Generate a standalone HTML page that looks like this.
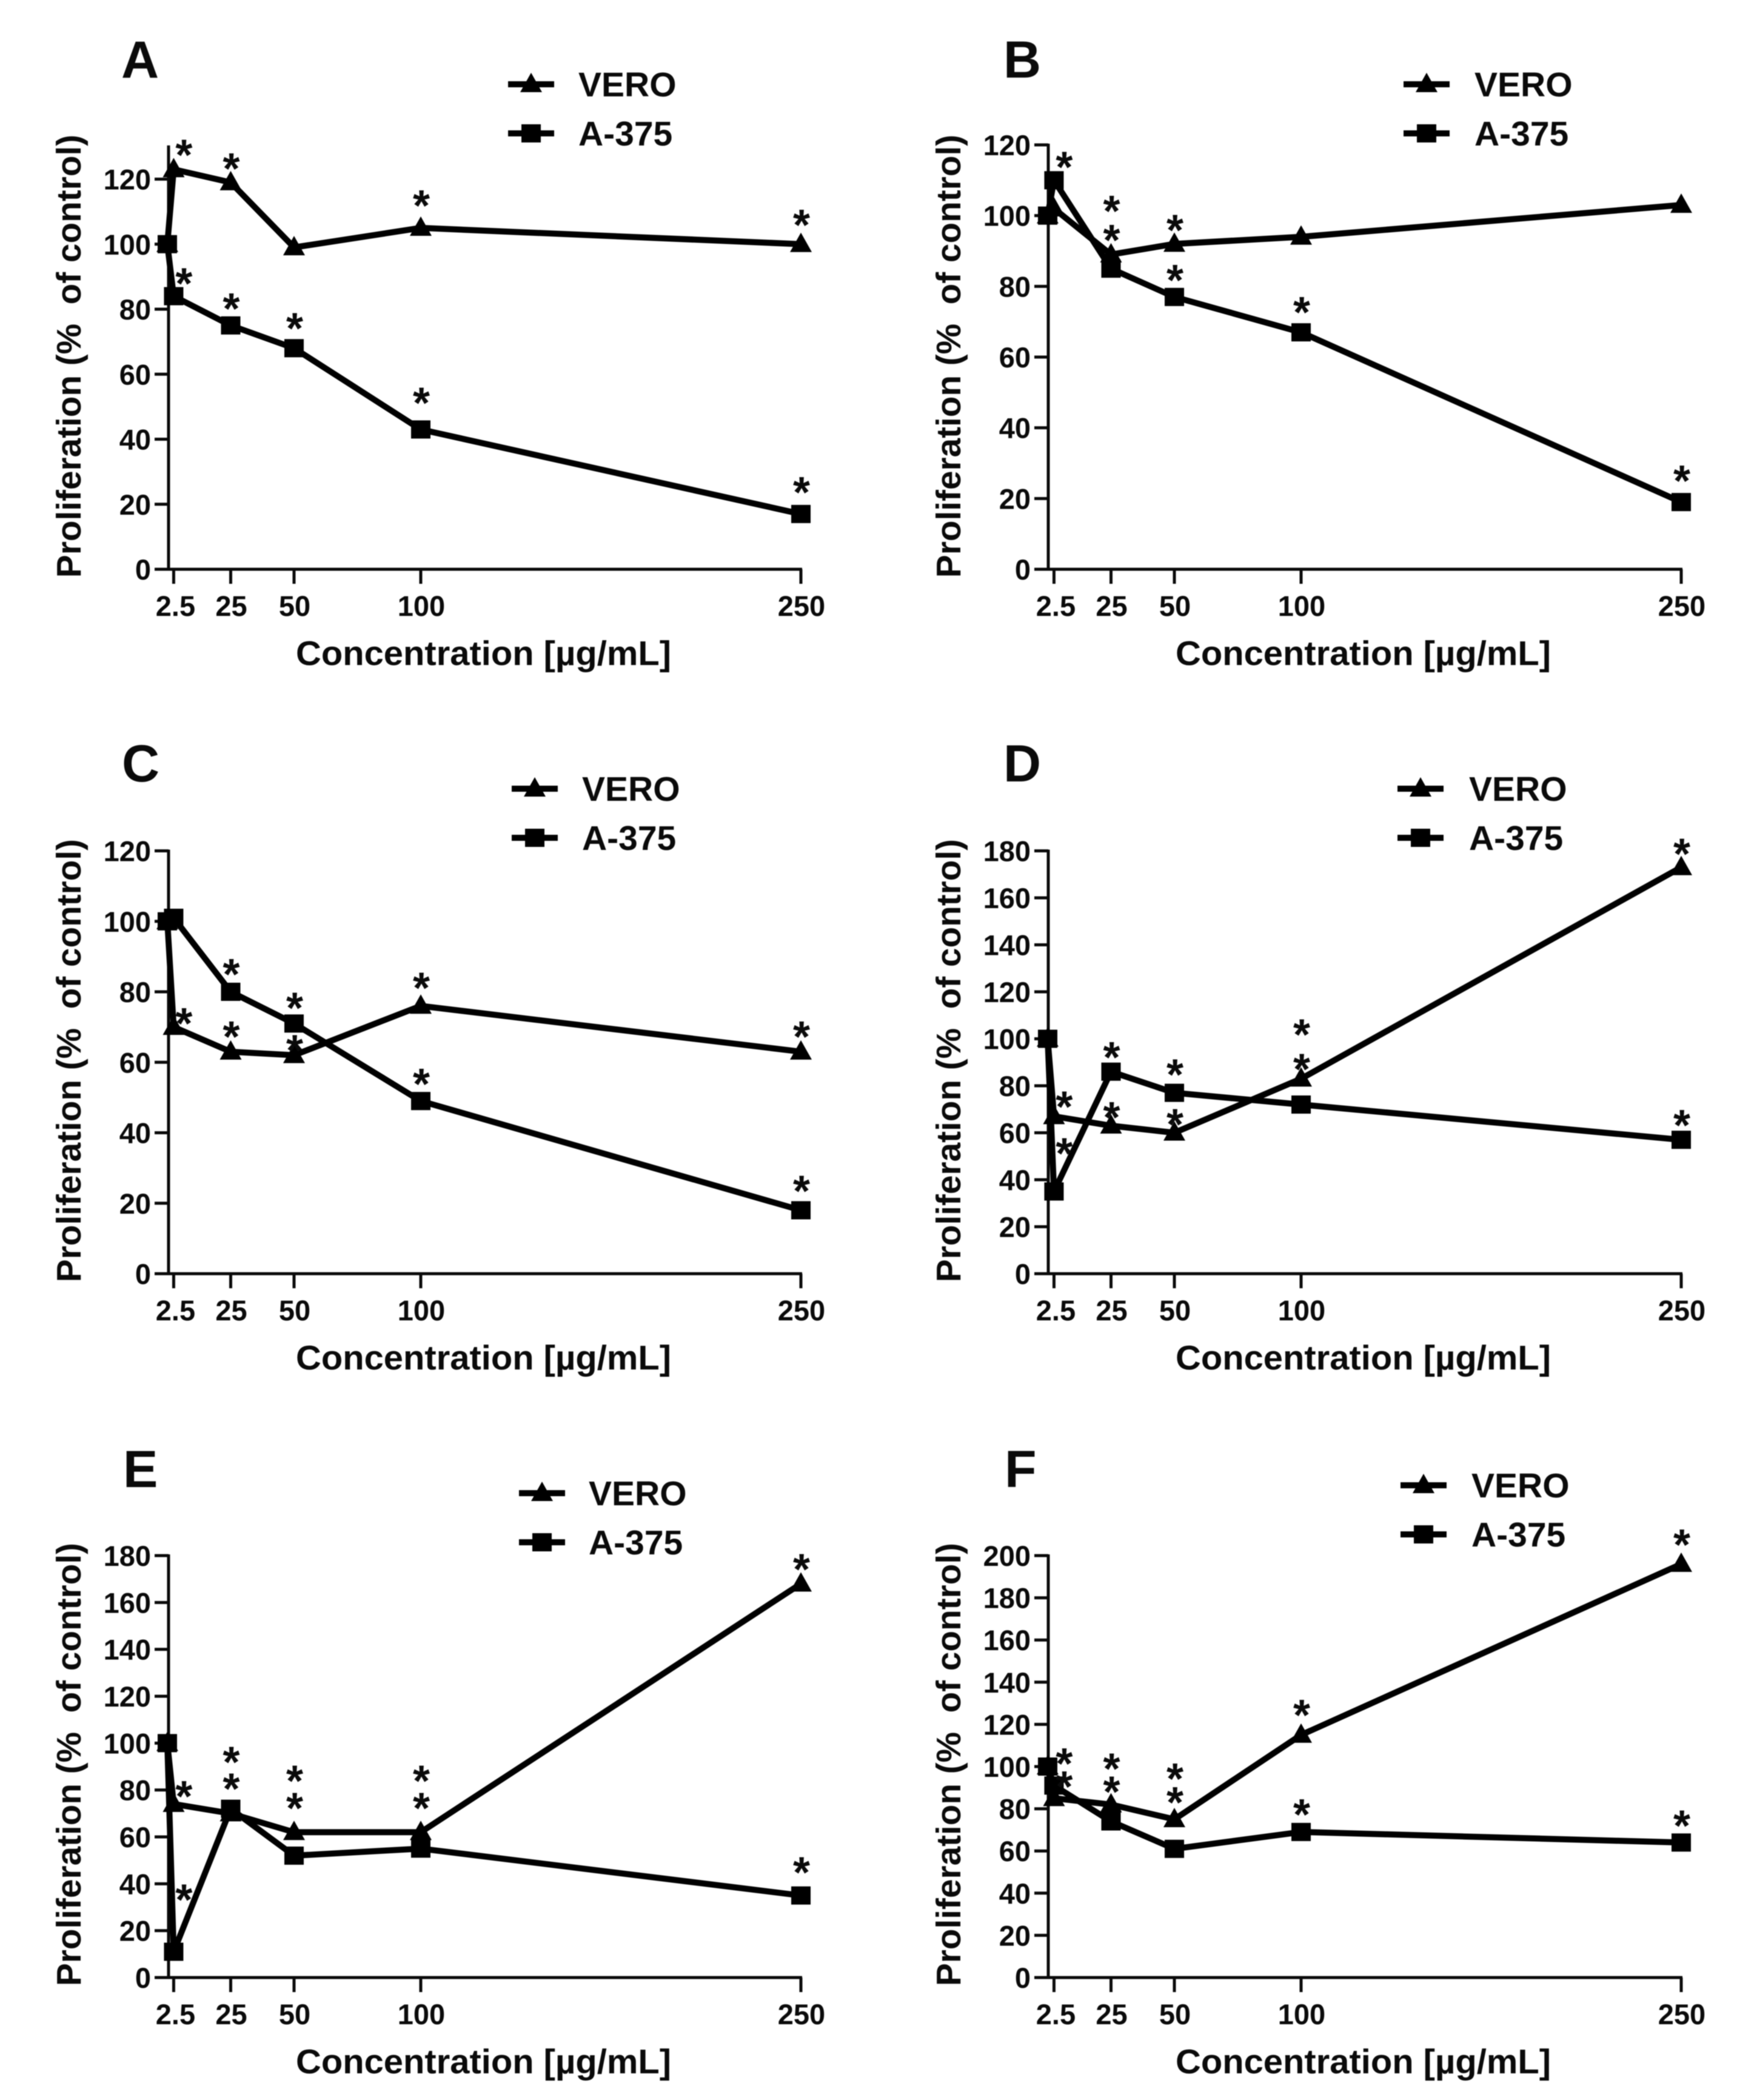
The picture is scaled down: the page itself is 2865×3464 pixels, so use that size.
<!DOCTYPE html>
<html lang="en">
<head>
<meta charset="utf-8">
<title>Proliferation charts A-F</title>
<style>
html,body{margin:0;padding:0;background:#fff;}
svg{display:block;filter:blur(0.9px);}
text{font-family:"Liberation Sans",Arial,sans-serif;fill:#0a0a0a;}
</style>
</head>
<body>
<svg id="figure" xmlns="http://www.w3.org/2000/svg" width="2865" height="3464" viewBox="0 0 2865 3464"></svg>
<script>
const concentrations = [0, 2.5, 25, 50, 100, 250];
const xTickValues = [2.5, 25, 50, 100, 250];
const xTickLabels = ['2.5', '25', '50', '100', '250'];

const veroA = [100, 123, 119, 99, 105, 100];
const a375A = [100, 84, 75, 68, 43, 17];
const yTicksA = [0, 20, 40, 60, 80, 100, 120];
const starsA = [[0,1,33],[0,2,32],[0,4,46],[0,5,41],[1,1,30],[1,2,37],[1,3,42],[1,4,53],[1,5,45]];

const veroB = [100, 102, 89, 92, 94, 103];
const a375B = [100, 110, 85, 77, 67, 19];
const yTicksB = [0, 20, 40, 60, 80, 100, 120];
const starsB = [[1,1,31],[0,2,81],[0,2,33],[0,3,32],[1,3,37],[1,4,42],[1,5,44]];

const veroC = [100, 70, 63, 62, 76, 63];
const a375C = [100, 101, 80, 71, 49, 18];
const yTicksC = [0, 20, 40, 60, 80, 100, 120];
const starsC = [[0,1,15],[0,2,34],[0,3,17],[0,4,39],[0,5,34],[1,2,38],[1,3,35],[1,4,37],[1,5,41]];

const veroD = [100, 67, 63, 60, 83, 173];
const a375D = [100, 35, 86, 77, 72, 57];
const yTicksD = [0, 20, 40, 60, 80, 100, 120, 140, 160, 180];
const starsD = [[0,1,25],[0,2,23],[0,3,23],[0,4,82],[0,4,25],[0,5,31],[1,1,72],[1,2,33],[1,3,39],[1,5,33]];

const veroE = [100, 74, 70, 62, 62, 168];
const a375E = [100, 11, 72, 52, 55, 35];
const yTicksE = [0, 20, 40, 60, 80, 100, 120, 140, 160, 180];
const starsE = [[0,1,22],[1,1,95],[1,2,86],[1,2,42],[0,3,94],[0,3,49],[0,4,94],[0,4,49],[0,5,33],[1,5,47]];

const veroF = [100, 85, 82, 75, 115, 196];
const a375F = [100, 91, 74, 61, 69, 64];
const yTicksF = [0, 20, 40, 60, 80, 100, 120, 140, 160, 180, 200];
const starsF = [[0,1,66],[0,1,28],[0,2,68],[0,2,30],[0,3,76],[0,3,37],[0,4,42],[0,5,41],[1,4,38],[1,5,37]];

const seriesNames = ['VERO', 'A-375'];

const panels = [
  {id:'a', letter:'A', vero:veroA, a375:a375A, yTicks:yTicksA, stars:starsA, yMax:130, yRef:120, yRefPx:295.5, zero:939, originX:276, perUnit:4.18, axisX:278, letterX:200, letterY:128, legendX:838, legendY:139, legendTextX:954},
  {id:'b', letter:'B', vero:veroB, a375:a375B, yTicks:yTicksB, stars:starsB, yMax:120, yRef:120, yRefPx:239, zero:939, originX:1728, perUnit:4.18, axisX:1729, letterX:1655, letterY:128, legendX:2315, legendY:139, legendTextX:2432},
  {id:'c', letter:'C', vero:veroC, a375:a375C, yTicks:yTicksC, stars:starsC, yMax:120, yRef:120, yRefPx:1403.5, zero:2101, originX:276, perUnit:4.18, axisX:278, letterX:201, letterY:1289, legendX:844, legendY:1301, legendTextX:960},
  {id:'d', letter:'D', vero:veroD, a375:a375D, yTicks:yTicksD, stars:starsD, yMax:180, yRef:180, yRefPx:1403.5, zero:2101, originX:1728, perUnit:4.18, axisX:1729, letterX:1655, letterY:1289, legendX:2305, legendY:1301, legendTextX:2423},
  {id:'e', letter:'E', vero:veroE, a375:a375E, yTicks:yTicksE, stars:starsE, yMax:180, yRef:180, yRefPx:2566, zero:3262, originX:276, perUnit:4.18, axisX:278, letterX:203, letterY:2453, legendX:856, legendY:2463, legendTextX:971},
  {id:'f', letter:'F', vero:veroF, a375:a375F, yTicks:yTicksF, stars:starsF, yMax:200, yRef:200, yRefPx:2566, zero:3262, originX:1728, perUnit:4.18, axisX:1729, letterX:1657, letterY:2453, legendX:2310, legendY:2450, legendTextX:2427}
];

const svg = document.getElementById('figure');
const NS = 'http://www.w3.org/2000/svg';

function make(parent, tag, attrs) {
  const el = document.createElementNS(NS, tag);
  for (const k in attrs) el.setAttribute(k, attrs[k]);
  parent.appendChild(el);
  return el;
}
function label(parent, content, attrs) {
  const el = make(parent, 'text', attrs);
  el.textContent = content;
  return el;
}
function triangle(cx, cy) {
  return (cx - 18) + ',' + (cy + 13) + ' ' + cx + ',' + (cy - 19) + ' ' + (cx + 18) + ',' + (cy + 13);
}

panels.forEach(function (p) {
  const xScale = function (c) { return p.originX + c * p.perUnit; };
  const yScale = function (v) { return p.zero - v * (p.zero - p.yRefPx) / p.yRef; };

  const g = make(svg, 'g', {});
  
  

  const letter = label(g, p.letter, {x:p.letterX, y:p.letterY, 'font-size':86, 'font-weight':'bold'});
  
  

  const yAxis = make(g, 'line', {x1:p.axisX, x2:p.axisX, y1:yScale(p.yMax) - 2, y2:p.zero + 2, stroke:'#0a0a0a', 'stroke-width':5});
  
  

  const xAxis = make(g, 'line', {x1:p.axisX - 23, x2:xScale(250) + 2, y1:p.zero, y2:p.zero, stroke:'#0a0a0a', 'stroke-width':5});
  
  

  p.yTicks.forEach(function (v) {
    const y = yScale(v);
    const tick = make(g, 'line', {x1:p.axisX - 23, x2:p.axisX, y1:y, y2:y, stroke:'#0a0a0a', 'stroke-width':5});
    
    
    const tl = label(g, String(v), {x:p.axisX - 29, y:y + 17, 'font-size':47, 'font-weight':'bold', 'text-anchor':'end'});
    
    
  });

  xTickValues.forEach(function (c, i) {
    const x = xScale(c);
    const tick = make(g, 'line', {x1:x, x2:x, y1:p.zero, y2:p.zero + 24, stroke:'#0a0a0a', 'stroke-width':5});
    
    
    const tl = label(g, xTickLabels[i], {x:x + (i === 0 ? 3 : 1), y:p.zero + 77, 'font-size':47, 'font-weight':'bold', 'text-anchor':'middle'});
    
    
  });

  const yTitle = label(g, 'Proliferation (%  of control)', {x:0, y:0, 'font-size':57, 'font-weight':'bold', textLength:731, lengthAdjust:'spacingAndGlyphs', style:'white-space:pre', transform:'translate(' + (p.axisX - 145) + ',' + (p.zero + 14) + ') rotate(-90)'});
  
  

  const xTitle = label(g, 'Concentration [\u00b5g/mL]', {x:p.axisX + 210, y:p.zero + 158, 'font-size':57, 'font-weight':'bold', textLength:619, lengthAdjust:'spacingAndGlyphs'});
  
  

  [p.vero, p.a375].forEach(function (values, s) {
    const pts = values.map(function (v, i) { return xScale(concentrations[i]) + ',' + yScale(v); }).join(' ');
    const line = make(g, 'polyline', {points:pts, fill:'none', stroke:'#000', 'stroke-width':10, 'stroke-linejoin':'miter', 'stroke-miterlimit':3});
    
    
    values.forEach(function (v, i) {
      const cx = xScale(concentrations[i]);
      const cy = yScale(v);
      let mark;
      if (s === 0) {
        mark = make(g, 'polygon', {points:triangle(cx, cy), fill:'#000'});
      } else {
        mark = make(g, 'rect', {x:cx - 16, y:cy - 15, width:32, height:30, fill:'#000'});
      }
      
      
    });
  });

  p.stars.forEach(function (st) {
    const values = st[0] === 0 ? p.vero : p.a375;
    const idx = st[1];
    const sx = xScale(concentrations[idx]) + (idx === 1 ? 17 : 1);
    const sy = yScale(values[idx]) - st[2];
    const star = label(g, '*', {x:sx, y:sy + 34, 'font-size':72, 'font-weight':'bold', 'text-anchor':'middle'});
    
    
  });

  const legend = make(g, 'g', {});
  
  
  seriesNames.forEach(function (name, s) {
    const ly = p.legendY + s * 81;
    const sw = make(legend, 'line', {x1:p.legendX, x2:p.legendX + 76, y1:ly, y2:ly, stroke:'#000', 'stroke-width':10});
    
    
    let mk;
    if (s === 0) {
      mk = make(legend, 'polygon', {points:triangle(p.legendX + 38, ly), fill:'#000'});
    } else {
      mk = make(legend, 'rect', {x:p.legendX + 22, y:ly - 15, width:32, height:30, fill:'#000'});
    }
    
    
    const t = label(legend, name, {x:p.legendTextX, y:ly + 20, 'font-size':57, 'font-weight':'bold'});
    
    
  });
});
</script>
</body>
</html>
